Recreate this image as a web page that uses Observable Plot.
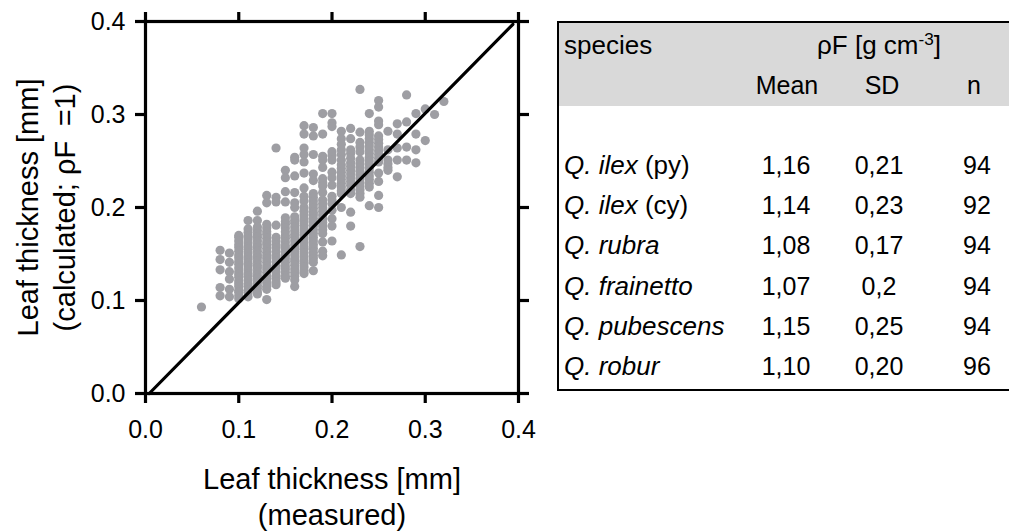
<!DOCTYPE html>
<html><head><meta charset="utf-8">
<script src="https://cdn.jsdelivr.net/npm/d3@7"></script>
<script src="https://cdn.jsdelivr.net/npm/@observablehq/plot@0.6"></script>
<style>
 body{margin:0;background:#fff;}
 #wrap{position:relative;width:1009px;height:532px;font-family:"Liberation Sans",Arial,sans-serif;color:#000;overflow:hidden;background:#fff}
 #chart{position:absolute;left:0;top:0}
 #table{position:absolute;left:557px;top:21px;width:452px;height:370px;box-sizing:border-box;border-left:2px solid #000;border-top:2px solid #000;border-bottom:2px solid #000}
 .hdr{position:absolute;left:0;top:0;right:0;height:83px;background:#d9d9d9}
 .cell{position:absolute;font-size:25px;line-height:30px;white-space:nowrap}
 .c{transform:translateX(-50%)}
 sup{font-size:0.66em;line-height:0;vertical-align:0.55em}
</style></head>
<body>
<div id="wrap"><div id="chart"></div><div id="table"><div class="hdr"></div></div></div>
<script>
// measured leaf thickness columns [mm]
const measured = [0.06, 0.08, 0.09, 0.10, 0.11, 0.12, 0.13, 0.14, 0.15, 0.16, 0.17, 0.18, 0.19, 0.20, 0.21, 0.22, 0.23, 0.24, 0.25, 0.26, 0.27, 0.28, 0.29, 0.30, 0.31, 0.32];
// calculated leaf thickness [mm] for each measured column
const calculated = [
  [0.093],
  [0.154, 0.144, 0.133, 0.114, 0.105],
  [0.151, 0.141, 0.131, 0.123, 0.112, 0.104],
  [0.170, 0.168, 0.164, 0.160, 0.157, 0.153, 0.149, 0.146, 0.142, 0.139, 0.135, 0.131, 0.128, 0.125, 0.121, 0.118, 0.115, 0.111, 0.109, 0.105, 0.102],
  [0.186, 0.177, 0.173, 0.169, 0.166, 0.162, 0.158, 0.155, 0.151, 0.147, 0.144, 0.140, 0.137, 0.133, 0.129, 0.126, 0.122, 0.118, 0.115, 0.111, 0.108, 0.104],
  [0.196, 0.186, 0.179, 0.175, 0.171, 0.168, 0.164, 0.160, 0.157, 0.153, 0.149, 0.146, 0.142, 0.138, 0.135, 0.131, 0.127, 0.124, 0.120, 0.116, 0.113, 0.109, 0.107],
  [0.213, 0.205, 0.182, 0.178, 0.174, 0.171, 0.167, 0.163, 0.160, 0.156, 0.152, 0.148, 0.145, 0.141, 0.137, 0.134, 0.130, 0.126, 0.123, 0.119, 0.115, 0.112, 0.101],
  [0.264, 0.211, 0.206, 0.181, 0.168, 0.164, 0.160, 0.157, 0.153, 0.149, 0.146, 0.142, 0.138, 0.135, 0.131, 0.127, 0.124, 0.120, 0.117],
  [0.240, 0.232, 0.217, 0.206, 0.189, 0.185, 0.182, 0.178, 0.174, 0.170, 0.167, 0.163, 0.159, 0.156, 0.152, 0.148, 0.145, 0.141, 0.137, 0.134, 0.130, 0.126, 0.124],
  [0.254, 0.251, 0.234, 0.216, 0.205, 0.200, 0.190, 0.186, 0.183, 0.179, 0.175, 0.171, 0.168, 0.164, 0.160, 0.156, 0.153, 0.149, 0.145, 0.142, 0.138, 0.134, 0.130, 0.126, 0.122, 0.115],
  [0.288, 0.279, 0.264, 0.257, 0.249, 0.237, 0.221, 0.212, 0.207, 0.200, 0.196, 0.192, 0.188, 0.185, 0.181, 0.177, 0.173, 0.170, 0.166, 0.162, 0.158, 0.155, 0.151, 0.147, 0.143, 0.140, 0.136, 0.132, 0.129],
  [0.286, 0.277, 0.257, 0.236, 0.229, 0.215, 0.211, 0.207, 0.203, 0.199, 0.195, 0.192, 0.188, 0.184, 0.180, 0.176, 0.172, 0.168, 0.164, 0.160, 0.156, 0.152, 0.148, 0.145, 0.141, 0.132],
  [0.301, 0.279, 0.255, 0.251, 0.243, 0.231, 0.227, 0.223, 0.216, 0.208, 0.204, 0.200, 0.196, 0.192, 0.188, 0.184, 0.180, 0.176, 0.172, 0.163, 0.153, 0.148],
  [0.301, 0.291, 0.287, 0.260, 0.256, 0.251, 0.238, 0.232, 0.224, 0.212, 0.208, 0.204, 0.197, 0.188, 0.180, 0.164],
  [0.282, 0.274, 0.268, 0.262, 0.257, 0.251, 0.246, 0.242, 0.238, 0.234, 0.230, 0.226, 0.222, 0.218, 0.215, 0.200, 0.149],
  [0.285, 0.274, 0.262, 0.258, 0.253, 0.248, 0.244, 0.240, 0.236, 0.232, 0.228, 0.224, 0.219, 0.215, 0.195, 0.180],
  [0.327, 0.281, 0.270, 0.265, 0.260, 0.251, 0.247, 0.243, 0.239, 0.235, 0.231, 0.227, 0.223, 0.219, 0.215, 0.211, 0.158],
  [0.301, 0.282, 0.278, 0.274, 0.270, 0.266, 0.262, 0.258, 0.254, 0.250, 0.246, 0.242, 0.238, 0.234, 0.230, 0.226, 0.222, 0.202],
  [0.315, 0.308, 0.293, 0.289, 0.277, 0.273, 0.269, 0.265, 0.261, 0.257, 0.253, 0.249, 0.237, 0.228, 0.213, 0.200],
  [0.282, 0.262, 0.251, 0.247, 0.243, 0.240],
  [0.290, 0.279, 0.264, 0.251, 0.233],
  [0.321, 0.292, 0.265, 0.251],
  [0.301, 0.279, 0.262, 0.248],
  [0.306, 0.272],
  [0.300],
  [0.314]
];
// reference line (measured vs calculated)
const lineX = [0.004, 0.394];
const lineY = [0.000, 0.397];
const axisTicks = [0, 0.1, 0.2, 0.3, 0.4];
const xTitle = "Leaf thickness [mm]\n(measured)";
const yTitle = "Leaf thickness [mm]\n(calculated; \u03c1F\u2002=1)";

// table data
const speciesGenus = ["Q. ilex", "Q. ilex", "Q. rubra", "Q. frainetto", "Q. pubescens", "Q. robur"];
const speciesNote = ["(py)", "(cy)", "", "", "", ""];
const meanRho = ["1,16", "1,14", "1,08", "1,07", "1,15", "1,10"];
const sdRho = ["0,21", "0,23", "0,17", "0,2", "0,25", "0,20"];
const nLeaves = ["94", "92", "94", "94", "94", "96"];
const headSpecies = "species";
const headRho = "\u03c1F [g cm<sup>-3</sup>]";
const headCols = ["Mean", "SD", "n"];

const points = measured.flatMap((x, i) => calculated[i].map(y => ({x, y})));
const refLine = lineX.map((x, i) => ({x, y: lineY[i]}));
const fmt = d3.format(".1f");

const chart = Plot.plot({
  width: 540, height: 532,
  marginLeft: 145, marginRight: 22, marginTop: 21, marginBottom: 139,
  x: {domain: [0, 0.4]},
  y: {domain: [0, 0.4]},
  style: {fontFamily: "'Liberation Sans', Arial, sans-serif", background: "white", color: "black", overflow: "visible"},
  marks: [
    Plot.dot(points, {x: "x", y: "y", r: 4.6, fill: "#9e9ea3", stroke: "none"}),
    Plot.line(refLine, {x: "x", y: "y", stroke: "black", strokeWidth: 3.2}),
    Plot.frame({stroke: "black", strokeWidth: 3.2}),
    Plot.axisX(axisTicks, {anchor: "bottom", tickSize: 10, tickPadding: 17, tickFormat: fmt, fontSize: 25, strokeWidth: 3.2, label: null}),
    Plot.axisX(axisTicks, {anchor: "top", tickSize: 10, tickFormat: () => "", strokeWidth: 3.2, label: null}),
    Plot.axisY(axisTicks, {anchor: "left", tickSize: 10, tickPadding: 10, tickFormat: fmt, fontSize: 25, strokeWidth: 3.2, label: null}),
    Plot.axisY(axisTicks, {anchor: "right", tickSize: 10, tickFormat: () => "", strokeWidth: 3.2, label: null}),
    Plot.text([xTitle], {text: d => d, frameAnchor: "bottom", textAnchor: "middle", lineAnchor: "middle", dy: 102, fontSize: 29, lineHeight: 1.22, fill: "black"}),
    Plot.text([yTitle], {text: d => d, frameAnchor: "left", textAnchor: "middle", lineAnchor: "middle", rotate: -90, dx: -101, fontSize: 29, lineHeight: 1.3, fill: "black"})
  ]
});
document.getElementById("chart").appendChild(chart);

// table layout (page coords relative to table inner box at 559, 23)
const tbl = document.getElementById("table");
function cell(html, left, centerY, centered, size) {
  const d = document.createElement("div");
  d.className = "cell" + (centered ? " c" : "");
  d.style.left = left + "px";
  d.style.top = (centerY - 15 - 23) + "px";
  if (size) d.style.fontSize = size + "px";
  d.innerHTML = html;
  tbl.appendChild(d);
}
cell(headSpecies, 5, 45, false, 26);
cell(headRho, 320, 45, true, 26);
const headX = [228, 323, 415];
headCols.forEach((h, i) => cell(h, headX[i], 85, true));
const colX = [227, 320, 418];
speciesGenus.forEach((g, i) => {
  const cy = 165 + i * 40.2;
  cell("<i>" + g + "</i>" + (speciesNote[i] ? " " + speciesNote[i] : ""), 5, cy, false, 26);
  cell(meanRho[i], colX[0], cy, true);
  cell(sdRho[i], colX[1], cy, true);
  cell(nLeaves[i], colX[2], cy, true);
});
</script>
</body></html>
